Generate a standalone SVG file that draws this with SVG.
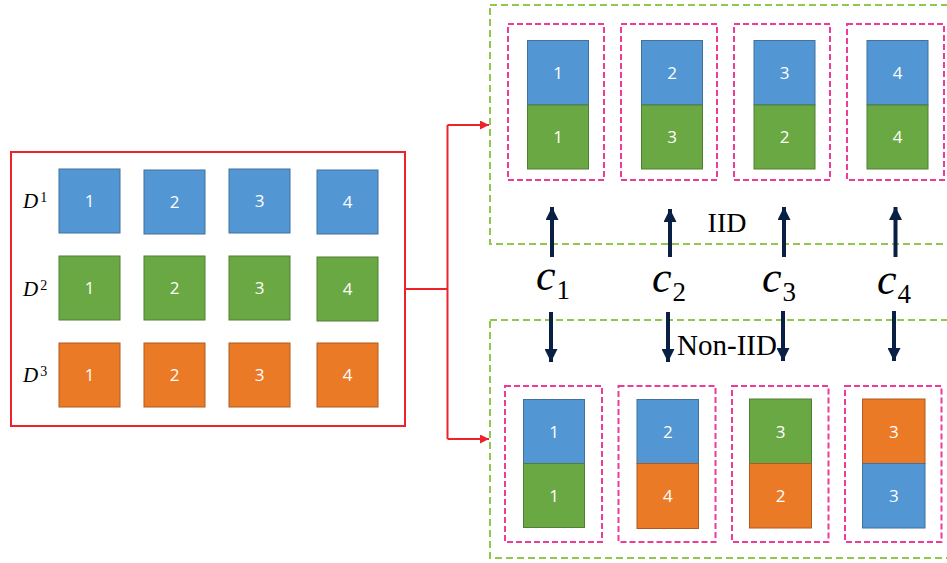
<svg xmlns="http://www.w3.org/2000/svg" width="947" height="563" viewBox="0 0 947 563">
<defs>
<style>
.b{fill:#5296D3;stroke:#41719C;stroke-width:1}
.g{fill:#6AA843;stroke:#507E32;stroke-width:1}
.o{fill:#EB7A26;stroke:#AE5A21;stroke-width:1}
.n{font-family:"Open Sans","Noto Sans",sans-serif;font-size:17px;fill:#fff;text-anchor:middle}
.pk{fill:none;stroke:#EF3A97;stroke-width:2;stroke-dasharray:6 3}
.gr{fill:none;stroke:#92C74E;stroke-width:2;stroke-dasharray:7 4}
.red{fill:none;stroke:#EE2229;stroke-width:2}
.nav{stroke:#0A1F44;stroke-width:4}
.lbl{font-family:"Liberation Serif",serif;font-style:italic;fill:#000}
.tt{font-family:"Liberation Serif","Times New Roman",serif;fill:#000}
</style>
<marker id="ra" viewBox="0 0 10 10" refX="10" refY="5" markerWidth="4.5" markerHeight="4.5" orient="auto" markerUnits="strokeWidth"><path d="M0,0 L10,5 L0,10 Z" fill="#EE2229"/></marker>
<marker id="na" viewBox="0 0 14 13" refX="13" refY="6.5" markerWidth="14" markerHeight="13" orient="auto" markerUnits="userSpaceOnUse"><path d="M0,0 L13,6.5 L0,13 Z" fill="#0A1F44"/></marker>
</defs>

<g id="dataset">
<rect x="11" y="152" width="394" height="274" class="red"/>
<text class="lbl" x="23" y="208" font-size="21">D<tspan font-style="normal" font-size="14" dx="2" dy="-6">1</tspan></text>
<text class="lbl" x="23" y="296" font-size="21">D<tspan font-style="normal" font-size="14" dx="2" dy="-6">2</tspan></text>
<text class="lbl" x="23" y="382" font-size="21">D<tspan font-style="normal" font-size="14" dx="2" dy="-6">3</tspan></text>
<rect class="b" x="59" y="169" width="61" height="64"/><text class="n" x="89.5" y="207">1</text>
<rect class="b" x="144" y="170" width="61" height="64"/><text class="n" x="174.5" y="208">2</text>
<rect class="b" x="229" y="169" width="61" height="64"/><text class="n" x="259.5" y="207">3</text>
<rect class="b" x="317" y="170" width="61" height="64"/><text class="n" x="347.5" y="208">4</text>
<rect class="g" x="59" y="256" width="61" height="64"/><text class="n" x="89.5" y="294">1</text>
<rect class="g" x="144" y="256" width="61" height="64"/><text class="n" x="174.5" y="294">2</text>
<rect class="g" x="229" y="256" width="61" height="64"/><text class="n" x="259.5" y="294">3</text>
<rect class="g" x="317" y="257" width="61" height="64"/><text class="n" x="347.5" y="295">4</text>
<rect class="o" x="59" y="343" width="61" height="64"/><text class="n" x="89.5" y="381">1</text>
<rect class="o" x="144" y="343" width="61" height="64"/><text class="n" x="174.5" y="381">2</text>
<rect class="o" x="229" y="343" width="61" height="64"/><text class="n" x="259.5" y="381">3</text>
<rect class="o" x="317" y="343" width="61" height="64"/><text class="n" x="347.5" y="381">4</text>
</g>

<g id="iid">
<rect x="490" y="5" width="470" height="239" class="gr"/>
<text class="tt" x="727" y="232" font-size="28" text-anchor="middle">IID</text>
</g>
<g id="iid-c1">
<rect class="pk" x="508" y="24" width="96" height="156"/>
<rect class="b" x="527.5" y="40.5" width="61" height="64.5"/><text class="n" x="558" y="79">1</text>
<rect class="g" x="527.5" y="105" width="61" height="64"/><text class="n" x="558" y="143">1</text>
</g>
<g id="iid-c2">
<rect class="pk" x="621" y="24" width="96" height="156"/>
<rect class="b" x="641.5" y="40.5" width="61" height="64.5"/><text class="n" x="672" y="79">2</text>
<rect class="g" x="641.5" y="105" width="61" height="64"/><text class="n" x="672" y="143">3</text>
</g>
<g id="iid-c3">
<rect class="pk" x="734" y="24" width="96" height="156"/>
<rect class="b" x="754" y="40.5" width="61" height="64.5"/><text class="n" x="784.5" y="79">3</text>
<rect class="g" x="754" y="105" width="61" height="64"/><text class="n" x="784.5" y="143">2</text>
</g>
<g id="iid-c4">
<rect class="pk" x="847" y="24" width="97" height="156"/>
<rect class="b" x="867" y="40.5" width="61" height="64.5"/><text class="n" x="897.5" y="79">4</text>
<rect class="g" x="867" y="105" width="61" height="64"/><text class="n" x="897.5" y="143">4</text>
</g>

<g id="noniid">
<rect x="490" y="320" width="470" height="238" class="gr"/>
<text class="tt" x="727" y="355" font-size="29" text-anchor="middle">Non-IID</text>
</g>
<g id="noniid-c1">
<rect class="pk" x="505" y="386" width="97" height="156"/>
<rect class="b" x="523.5" y="399.5" width="61" height="64"/><text class="n" x="554" y="437.5">1</text>
<rect class="g" x="523.5" y="463.5" width="61" height="64"/><text class="n" x="554" y="501.5">1</text>
</g>
<g id="noniid-c2">
<rect class="pk" x="618.5" y="386" width="97" height="156"/>
<rect class="b" x="637" y="399.5" width="61.5" height="64"/><text class="n" x="667.8" y="437.5">2</text>
<rect class="o" x="637" y="463.5" width="61.5" height="65" stroke="none"/><text class="n" x="667.8" y="502">4</text>
</g>
<g id="noniid-c3">
<rect class="pk" x="732" y="386" width="96.5" height="156"/>
<rect class="g" x="749.5" y="399" width="62" height="64.5" stroke="none"/><text class="n" x="780.5" y="437.5">3</text>
<rect class="o" x="749.5" y="463.5" width="62" height="64.5" stroke="none"/><text class="n" x="780.5" y="502">2</text>
</g>
<g id="noniid-c4">
<rect class="pk" x="845" y="386" width="96.5" height="156"/>
<rect class="o" x="862.5" y="399" width="62.5" height="64.5" stroke="none"/><text class="n" x="893.8" y="437.5">3</text>
<rect class="b" x="862.5" y="463.5" width="62.5" height="64.5" stroke="none"/><text class="n" x="893.8" y="502">3</text>
</g>

<g id="clients">
<text class="lbl" x="536" y="290" font-size="44">c<tspan font-style="normal" font-size="27" dx="1" dy="9">1</tspan></text>
<text class="lbl" x="652" y="292" font-size="44">c<tspan font-style="normal" font-size="27" dx="1" dy="9">2</tspan></text>
<text class="lbl" x="762" y="292" font-size="44">c<tspan font-style="normal" font-size="27" dx="1" dy="9">3</tspan></text>
<text class="lbl" x="877" y="294" font-size="44">c<tspan font-style="normal" font-size="27" dx="1" dy="9">4</tspan></text>
</g>

<g id="connectors">
<polyline class="red" points="405,289 447.5,289"/>
<polyline class="red" points="447.5,125 447.5,439"/>
<polyline class="red" points="447.5,125 489,125" marker-end="url(#ra)"/>
<polyline class="red" points="447.5,439 489,439" marker-end="url(#ra)"/>
<line class="nav" x1="552" y1="257" x2="552" y2="207" marker-end="url(#na)"/>
<line class="nav" x1="670" y1="257" x2="670" y2="209" marker-end="url(#na)"/>
<line class="nav" x1="784" y1="257" x2="784" y2="207" marker-end="url(#na)"/>
<line class="nav" x1="895.5" y1="257" x2="895.5" y2="207" marker-end="url(#na)"/>
<line class="nav" x1="551" y1="312" x2="551" y2="362" marker-end="url(#na)"/>
<line class="nav" x1="668" y1="312" x2="668" y2="362" marker-end="url(#na)"/>
<line class="nav" x1="783" y1="311" x2="783" y2="361" marker-end="url(#na)"/>
<line class="nav" x1="894" y1="311" x2="894" y2="361" marker-end="url(#na)"/>
</g>
</svg>
